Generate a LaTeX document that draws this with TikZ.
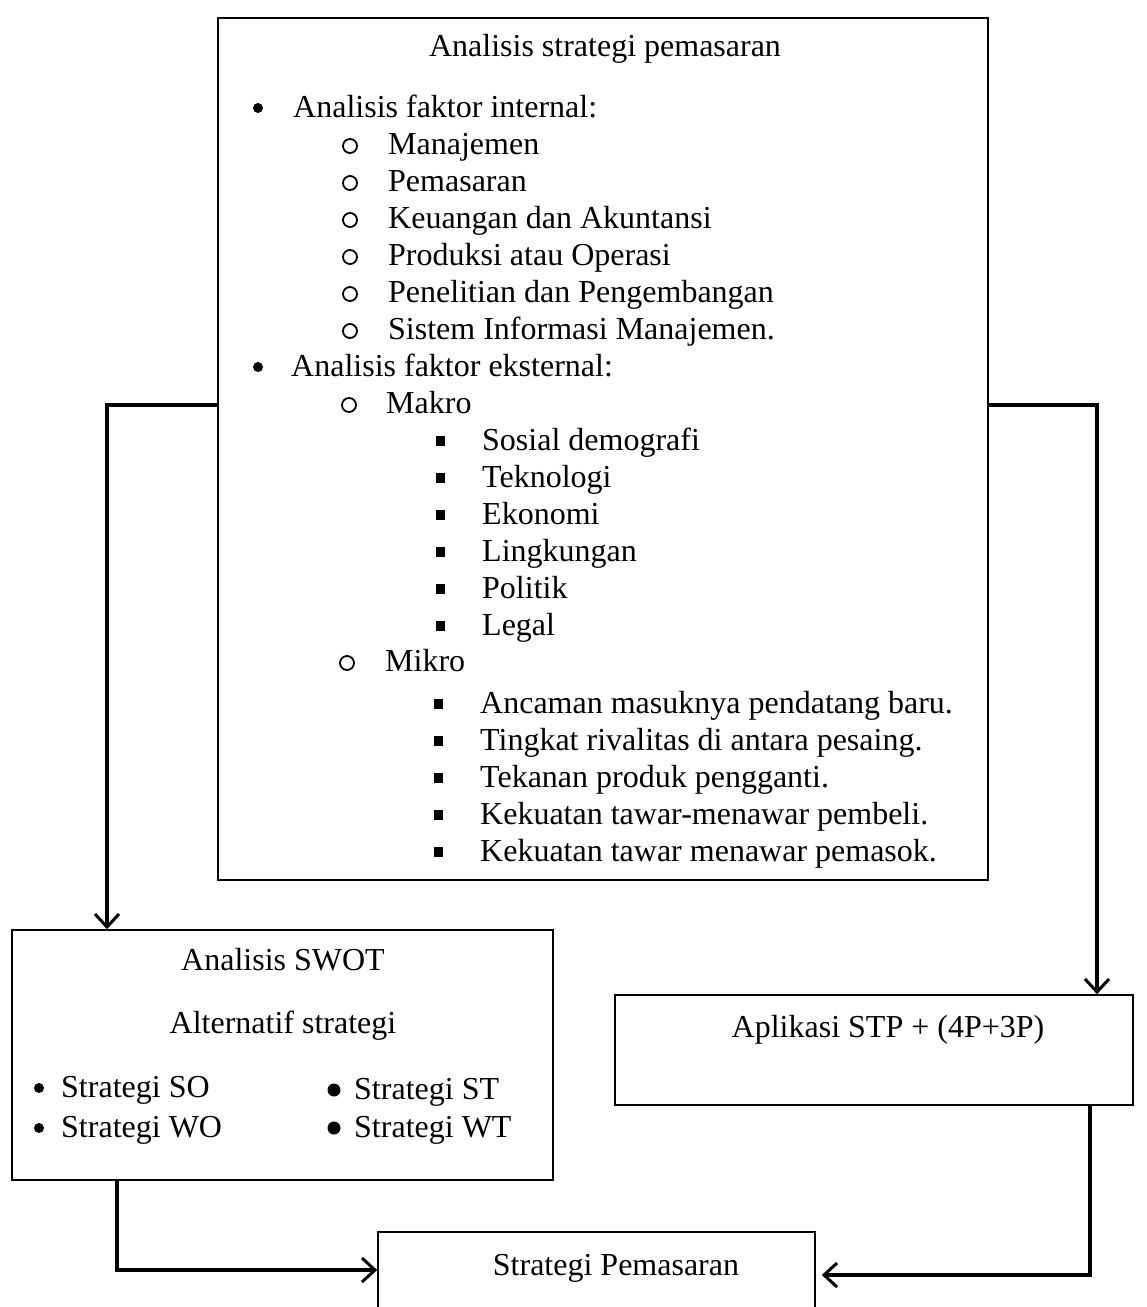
\documentclass[tikz,border=0pt]{standalone}
\usepackage{fontspec}
\setmainfont{Liberation Serif}
\usetikzlibrary{positioning,arrows.meta}
\tikzset{
  kotak/.style={draw=black,line width=1.6pt,inner sep=0},
  teks/.style={anchor=base west,inner sep=0,font=\fontsize{32}{37}\selectfont},
  judul/.style={anchor=base,inner sep=0,font=\fontsize{32}{37}\selectfont},
  panah/.style={line width=3.4pt,-{Straight Barb[length=13pt,width=24pt,line width=3pt]}},
  titik/.style={circle,fill=black,inner sep=0,minimum size=10pt},
  titikbesar/.style={circle,fill=black,inner sep=0,minimum size=13pt},
  bulat/.style={circle,draw=black,line width=1.8pt,inner sep=0,minimum size=14pt},
  kotakkecil/.style={fill=black,inner sep=0,minimum width=9pt,minimum height=10pt}
}
\begin{document}
\begin{tikzpicture}[x=1pt,y=-1pt]
  \useasboundingbox (0,0) rectangle (1147,1307);
  % kotak analisis
  \node[kotak,minimum width=770pt,minimum height=862pt] (analisis) at (603,449) {};
  \node[judul] (judul) at (605,56) {Analisis strategi pemasaran};
  \node[titik] (b1) at (258,108) {};
  \node[teks] (internal) at (293,117) {Analisis faktor internal:};
  \foreach \isi [count=\i] in {Manajemen,Pemasaran,Keuangan dan Akuntansi,
      Produksi atau Operasi,Penelitian dan Pengembangan,Sistem Informasi Manajemen.}{
    \node[bulat] (oi\i) at (350,109+37*\i) {};
    \node[teks] (ti\i) at (388,117+37*\i) {\isi};
  }
  \node[titik] (b2) at (258,367) {};
  \node[teks] (eksternal) at (291,376) {Analisis faktor eksternal:};
  \node[bulat] (omakro) at (349,405) {};
  \node[teks] (makro) at (386,413) {Makro};
  \foreach \isi [count=\i] in {Sosial demografi,Teknologi,Ekonomi,Lingkungan,Politik,Legal}{
    \node[kotakkecil] (sm\i) at (440,404+37*\i) {};
    \node[teks] (tm\i) at (482,413+37*\i) {\isi};
  }
  \node[bulat] (omikro) at (347,663) {};
  \node[teks] (mikro) at (385,671) {Mikro};
  \foreach \isi [count=\i] in {Ancaman masuknya pendatang baru.,Tingkat rivalitas di antara pesaing.,
      Tekanan produk pengganti.,Kekuatan tawar-menawar pembeli.,Kekuatan tawar menawar pemasok.}{
    \node[kotakkecil] (sk\i) at (438,667+37*\i) {};
    \node[teks] (tk\i) at (480,676+37*\i) {\isi};
  }
  % kotak SWOT
  \node[kotak,minimum width=541pt,minimum height=250pt] (swot) at (282.5,1055) {};
  \node[judul] (swotjudul) at (283,970) {Analisis SWOT};
  \node[judul] (alternatif) at (283,1033) {Alternatif strategi};
  \node[titik] (bso) at (39,1088) {};
  \node[teks] (so) at (61,1097) {Strategi SO};
  \node[titik] (bwo) at (39,1128) {};
  \node[teks] (wo) at (61,1137) {Strategi WO};
  \node[titikbesar] (bst) at (334,1090) {};
  \node[teks] (st) at (354,1099) {Strategi ST};
  \node[titikbesar] (bwt) at (334,1128) {};
  \node[teks] (wt) at (354,1137) {Strategi WT};
  % kotak STP
  \node[kotak,minimum width=518pt,minimum height=110pt] (stp) at (874,1050) {};
  \node[judul] (stpteks) at (888,1037) {Aplikasi STP + (4P+3P)};
  % kotak strategi pemasaran
  \node[kotak,minimum width=437pt,minimum height=90pt] (strategi) at (596.5,1277) {};
  \node[judul] (strategiteks) at (616,1275) {Strategi Pemasaran};
  % panah
  \coordinate (belokkiri) at (107,405);
  \coordinate (belokkanan) at (1097,405);
  \coordinate (bawahkiri) at (117,1270);
  \coordinate (bawahkanan) at (1090,1275);
  \draw[panah] (analisis.west |- belokkiri) -- (belokkiri) -- (belokkiri |- swot.north);
  \draw[panah] (analisis.east |- belokkanan) -- (belokkanan) -- (belokkanan |- stp.north);
  \draw[panah] (swot.south -| bawahkiri) -- (bawahkiri) -- (bawahkiri -| strategi.west);
  \draw[panah] (stp.south -| bawahkanan) -- (bawahkanan) -- ([xshift=6pt]bawahkanan -| strategi.east);
\end{tikzpicture}
\end{document}
